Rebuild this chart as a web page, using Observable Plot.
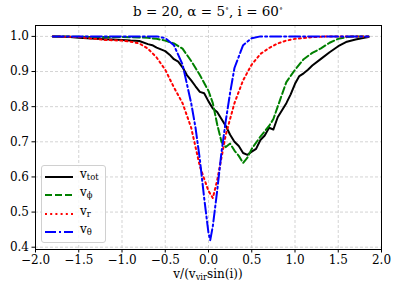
<!DOCTYPE html>
<html>
<head>
<meta charset="utf-8">
<script src="https://cdn.jsdelivr.net/npm/d3@7"></script>
<script src="https://cdn.jsdelivr.net/npm/@observablehq/plot@0.6"></script>
<style>
  html, body { margin: 0; padding: 0; background: #fff; }
  #wrap { position: relative; width: 399px; height: 294px; font-family: "DejaVu Serif", serif; color: #000; }
  #title { position: absolute; left: 35px; width: 346px; top: 3px; text-align: center; font-size: 13.5px; line-height: 16px; white-space: nowrap; }
  #xlabel { position: absolute; left: 35px; width: 346px; top: 267px; text-align: center; font-size: 12px; line-height: 14px; white-space: nowrap; }
  sub { font-size: 0.7em; vertical-align: -0.25em; line-height: 0; }
  sup { font-size: 0.6em; vertical-align: 0.6em; line-height: 0; }
  #legend { position: absolute; left: 41px; top: 165px; width: 65px; height: 78px; box-sizing: border-box;
            border: 1px solid #d0d0d0; border-radius: 3px; background: rgba(255,255,255,0.8); }
  .row { position: absolute; left: 0; height: 16px; width: 64px; font-size: 12px; line-height: 16px; }
  .row svg { position: absolute; left: 2px; top: 4px; }
  .row span { position: absolute; left: 38px; top: -3px; }
</style>
</head>
<body>
<div id="wrap">
  <div id="chart"></div>
  <div id="title">b = 20, α = 5<sup>∘</sup>, i = 60<sup>∘</sup></div>
  <div id="xlabel">v/(v<sub>vir</sub>sin(i))</div>
  <div id="legend"></div>
</div>
<script>
// ---- data ----
const seriesNames = ["tot", "ϕ", "r", "θ"];
const seriesColors = ["#000000", "#008000", "#ff0000", "#0000ff"];
const seriesDash = [null, "7,3", "2,3.2", "11,3,2,3"];

const vTot = [-1.8,-1.7,-1.6,-1.5,-1.4,-1.3,-1.2,-1.1,-1.0,-0.9,-0.8,-0.7,-0.65,-0.6,-0.55,-0.5,-0.45,-0.4,-0.35,-0.3,-0.25,-0.2,-0.15,-0.1,-0.05,0.0,0.05,0.1,0.15,0.2,0.25,0.3,0.35,0.4,0.45,0.5,0.55,0.6,0.65,0.7,0.75,0.8,0.85,0.9,0.95,1.0,1.05,1.1,1.15,1.2,1.3,1.4,1.5,1.6,1.7,1.8,1.85];
const fTot = [1.0,0.999,0.998,0.996,0.995,0.993,0.992,0.991,0.990,0.988,0.987,0.978,0.975,0.968,0.963,0.958,0.948,0.935,0.928,0.912,0.890,0.875,0.858,0.842,0.838,0.815,0.795,0.785,0.765,0.745,0.72,0.70,0.688,0.668,0.663,0.672,0.68,0.705,0.718,0.74,0.735,0.77,0.79,0.81,0.835,0.865,0.887,0.895,0.905,0.917,0.936,0.955,0.972,0.985,0.991,0.996,0.998];

const vPhi = [-1.8,-1.5,-1.2,-1.0,-0.8,-0.7,-0.6,-0.5,-0.4,-0.3,-0.2,-0.1,0.0,0.05,0.1,0.15,0.2,0.25,0.3,0.35,0.4,0.45,0.5,0.6,0.7,0.75,0.8,0.9,1.0,1.1,1.2,1.3,1.4,1.5,1.6,1.7,1.85];
const fPhi = [1.0,0.999,0.998,0.998,0.997,0.996,0.993,0.988,0.980,0.965,0.930,0.890,0.845,0.810,0.750,0.700,0.685,0.695,0.675,0.660,0.640,0.655,0.680,0.715,0.745,0.765,0.800,0.870,0.905,0.935,0.953,0.966,0.982,0.993,0.998,1.0,1.0];

const vR = [-1.8,-1.5,-1.2,-1.0,-0.9,-0.8,-0.7,-0.6,-0.5,-0.4,-0.3,-0.2,-0.1,0.0,0.05,0.1,0.2,0.3,0.4,0.5,0.6,0.7,0.8,0.9,1.0,1.2,1.4,1.85];
const fR = [1.0,0.998,0.99,0.988,0.985,0.98,0.965,0.94,0.905,0.855,0.81,0.74,0.63,0.56,0.54,0.59,0.72,0.81,0.875,0.92,0.95,0.967,0.98,0.988,0.993,0.998,1.0,1.0];

const vTheta = [-1.8,-1.0,-0.6,-0.5,-0.4,-0.3,-0.2,-0.15,-0.1,-0.05,0.0,0.02,0.05,0.1,0.15,0.2,0.25,0.3,0.4,0.5,0.6,1.0,1.85];
const fTheta = [1.0,1.0,1.0,0.995,0.975,0.92,0.81,0.74,0.65,0.54,0.44,0.42,0.46,0.56,0.67,0.76,0.84,0.91,0.975,0.995,1.0,1.0,1.0];

const xTicks = [-2.0,-1.5,-1.0,-0.5,0.0,0.5,1.0,1.5,2.0];
const yTicks = [0.4,0.5,0.6,0.7,0.8,0.9,1.0];

// ---- build ----
const xs = [vTot, vPhi, vR, vTheta];
const ys = [fTot, fPhi, fR, fTheta];
const fmt = d3.format(".1f");

const lineMarks = xs.map((xv, k) => {
  const rows = xv.map((x, i) => ({x, y: ys[k][i]}));
  const opts = {x: "x", y: "y", stroke: seriesColors[k], strokeWidth: 2, curve: "linear"};
  if (seriesDash[k]) opts.strokeDasharray = seriesDash[k];
  return Plot.line(rows, opts);
});

const chart = Plot.plot({
  width: 399,
  height: 294,
  marginTop: 25,
  marginBottom: 45,
  marginLeft: 35,
  marginRight: 18,
  style: {fontFamily: "DejaVu Serif, serif", fontSize: "12px", color: "#000", background: "transparent"},
  x: {domain: [-2, 2]},
  y: {domain: [0.3935, 1.031]},
  marks: [
    Plot.gridX(xTicks, {stroke: "#b0b0b0", strokeOpacity: 0.55, strokeDasharray: "3,2"}),
    Plot.gridY(yTicks, {stroke: "#b0b0b0", strokeOpacity: 0.55, strokeDasharray: "3,2"}),
    ...lineMarks,
    Plot.frame({stroke: "#000", strokeWidth: 1}),
    Plot.axisX(xTicks, {tickSize: 3.5, tickPadding: 2, tickFormat: fmt, label: null, fontSize: 12}),
    Plot.axisY(yTicks, {tickSize: 3.5, tickPadding: 3, tickFormat: fmt, label: null, fontSize: 12})
  ]
});
document.getElementById("chart").appendChild(chart);

// legend (HTML)
const legend = document.getElementById("legend");
const rowTops = [3, 21, 40, 58];
seriesNames.forEach((name, k) => {
  const row = document.createElement("div");
  row.className = "row";
  row.style.top = rowTops[k] + "px";
  const dash = seriesDash[k] ? ` stroke-dasharray="${seriesDash[k]}"` : "";
  row.innerHTML = `<svg width="30" height="8"><line x1="1" y1="4" x2="29" y2="4" stroke="${seriesColors[k]}" stroke-width="2"${dash}/></svg><span>v<sub>${name}</sub></span>`;
  legend.appendChild(row);
});
</script>
</body>
</html>
